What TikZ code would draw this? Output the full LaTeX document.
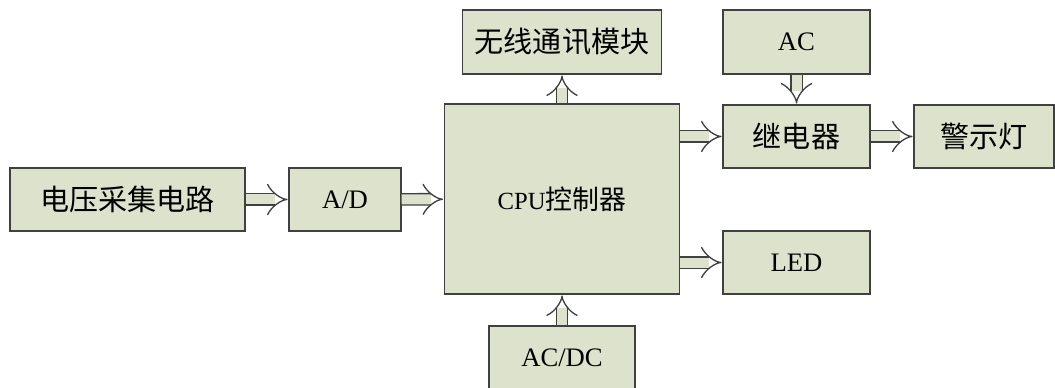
\documentclass[tikz,border=0pt]{standalone}
\usepackage{fontspec}
\setmainfont{Liberation Serif}
\newfontfamily\cjk[Scale=1.09]{Noto Sans CJK SC}
\usetikzlibrary{arrows.meta}
\definecolor{boxfill}{RGB}{221,226,204}
\definecolor{boxline}{RGB}{64,64,64}

\begin{document}
\begin{tikzpicture}[x=0.75pt,y=-0.75pt,>={Implies},line width=1.1pt]
    \tikzstyle{block}=[draw=boxline,fill=boxfill,inner sep=0pt,
      minimum height=47.25pt,font=\fontsize{20}{24}\selectfont]
    \tikzstyle{pipe}=[->,draw=boxline,double=boxfill,double distance=7.5pt,
      line width=1pt,shorten >=0.5pt]
    \useasboundingbox (0,0) rectangle (1055,388);

    \node[block,minimum width=176.25pt] (volt)  at (127.5,199.5) {{\cjk 电压采集电路}};
    \node[block,minimum width=84pt]     (ad)    at (345,199.5)   {A/D};
    \node[block,minimum width=176.25pt,minimum height=142.5pt,
      font=\fontsize{18.5}{22}\selectfont] (cpu)  at (562,199)   {CPU{\cjk 控制器}};
    \node[block,minimum width=149.25pt,minimum height=48pt] (wifi) at (562,42) {{\cjk 无线通讯模块}};
    \node[block,minimum width=110.25pt,minimum height=48pt] (ac)   at (796.5,42) {AC};
    \node[block,minimum width=110.25pt] (relay) at (796.5,136.5) {{\cjk 继电器}};
    \node[block,minimum width=105pt]    (lamp)  at (984,136.5)   {{\cjk 警示灯}};
    \node[block,minimum width=110.25pt] (led)   at (796.5,262.5) {LED};
    \node[block,minimum width=109.5pt]  (acdc)  at (562,357.5)   {AC/DC};

    \path (volt) edge[pipe] (ad)
    (ad) edge[pipe] (cpu)
    (cpu) edge[pipe] (wifi)
    (cpu.east |- relay) edge[pipe] (relay)
    (cpu.east |- led) edge[pipe] (led)
    (ac) edge[pipe] (relay)
    (relay) edge[pipe] (lamp)
    (acdc) edge[pipe] (cpu);
  \end{tikzpicture}
\end{document}
